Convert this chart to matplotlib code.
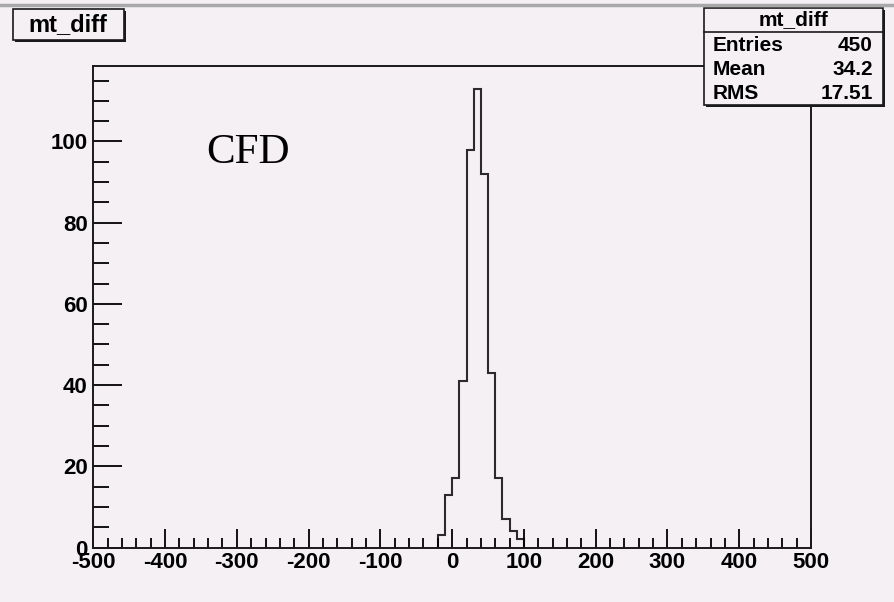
import matplotlib
matplotlib.use('Agg')
import matplotlib.pyplot as plt
import numpy as np
from matplotlib.patches import Rectangle

# histogram of mt_diff, 10-unit bins from -20 to 100
bin_edges = [-20, -10, 0, 10, 20, 30, 40, 50, 60, 70, 80, 90, 100]
counts = [3, 13, 17, 41, 98, 113, 92, 43, 17, 7, 4, 2]

hist_name = 'mt_diff'
stat_labels = ['Entries', 'Mean', 'RMS']
stat_values = ['450', '34.2', '17.51']

bg = '#f4f0f4'
W, H = 894, 602

fig = plt.figure(figsize=(W/100., H/100.), dpi=100, facecolor=bg)
ax = fig.add_axes([93.3/W, 1-547.5/H, (811-93.3)/W, (547.5-65.7)/H])
ax.set_facecolor(bg)

ax.stairs(counts, bin_edges, color='#2b2b2b', linewidth=1.5)

ax.set_xlim(-500, 500)
ax.set_ylim(0, max(counts)*1.05)
ax.set_xticks(np.arange(-500, 501, 100))
ax.set_xticks(np.arange(-500, 501, 20), minor=True)
ax.set_yticks(np.arange(0, 101, 20))
ax.set_yticks(np.arange(0, 116, 5), minor=True)

tick_font = dict(family='Liberation Sans', weight='bold', size=16)
ax.set_xticklabels([str(v) for v in range(-500, 501, 100)], **tick_font)
ax.set_yticklabels([str(v) for v in range(0, 101, 20)], **tick_font)

ax.tick_params(axis='x', which='major', direction='in', length=13.5, width=1.3, pad=3.5)
ax.tick_params(axis='x', which='minor', direction='in', length=7.5, width=1.3)
ax.tick_params(axis='y', which='major', direction='in', length=21, width=1.3, pad=4)
ax.tick_params(axis='y', which='minor', direction='in', length=11.5, width=1.3)
for s in ax.spines.values():
    s.set_linewidth(1.4)
    s.set_color('#1a1a1a')

ax.text(-343, 94.8, 'CFD', family='Liberation Serif', fontsize=31,
        ha='left', va='baseline', color='black')

# overlay in pixel coordinates for the ROOT-style boxes
ov = fig.add_axes([0, 0, 1, 1], zorder=5)
ov.set_xlim(0, W)
ov.set_ylim(H, 0)
ov.axis('off')
ov.patch.set_alpha(0)

# grey strip on top
ov.plot([0, W], [4.5, 4.5], color='#a8a8a8', linewidth=2.5)

def box(x0, y0, x1, y1):
    ov.add_patch(Rectangle((x0+2, y0+2), x1-x0, y1-y0, facecolor='#1a1a1a',
                           edgecolor='none'))
    ov.add_patch(Rectangle((x0, y0), x1-x0, y1-y0, facecolor=bg,
                           edgecolor='#1a1a1a', linewidth=1.2))

# title box
box(12.5, 8.5, 124, 40)
ov.text(68, 25, hist_name, family='Liberation Sans', weight='bold',
        fontsize=17, ha='center', va='center')

# stats box
box(703.5, 8, 883, 105)
ov.plot([703.5, 883], [32.3, 32.3], color='#1a1a1a', linewidth=1.2)
ov.text(793, 20, hist_name, family='Liberation Sans', weight='bold',
        fontsize=15, ha='center', va='center')
for i, (lab, val) in enumerate(zip(stat_labels, stat_values)):
    y = 45.5 + i*24
    ov.text(712.5, y, lab, family='Liberation Sans', weight='bold',
            fontsize=15, ha='left', va='center')
    ov.text(873, y, val, family='Liberation Sans', weight='bold',
            fontsize=15, ha='right', va='center')

fig.savefig('out.png', dpi=100, facecolor=bg)
